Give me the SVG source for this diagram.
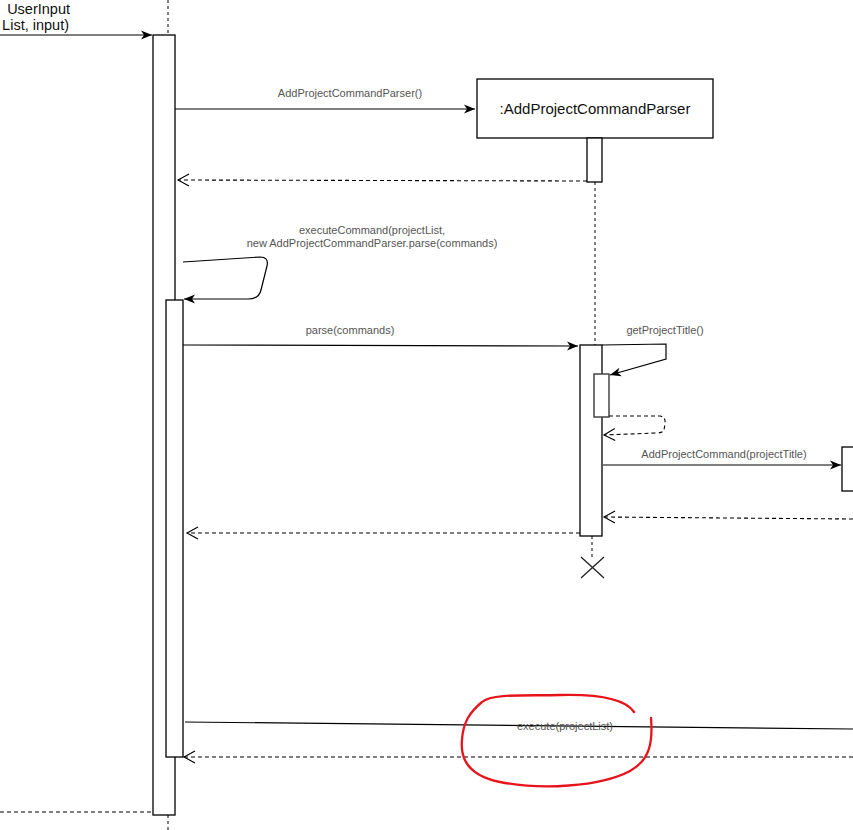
<svg xmlns="http://www.w3.org/2000/svg" width="853" height="830" viewBox="0 0 853 830">
<style>
.box{fill:#fff;stroke:#000;stroke-width:1.3}
.life{stroke:#000;stroke-width:1;stroke-dasharray:3 3;fill:none}
.msg{stroke:#000;stroke-width:1.2;fill:none}
.ret{stroke:#000;stroke-width:1.1;stroke-dasharray:4 3;fill:none}
.lbl{font-family:"Liberation Sans",Arial,sans-serif;font-size:11px;fill:#555;text-anchor:middle}
.obj{font-family:"Liberation Sans",Arial,sans-serif;font-size:15px;fill:#111;text-anchor:middle}
.big{font-family:"Liberation Sans",Arial,sans-serif;font-size:14.5px;fill:#111;text-anchor:end}
</style>
<defs>
<marker id="fill" markerUnits="userSpaceOnUse" markerWidth="12" markerHeight="10" refX="11" refY="5" orient="auto">
<path d="M0,0.5 L11,5 L0,9.5 L3,5 Z" fill="#000"/>
</marker>
<marker id="open" markerUnits="userSpaceOnUse" markerWidth="14" markerHeight="14" refX="12" refY="7" orient="auto">
<path d="M1,1 L12,7 L1,13" fill="none" stroke="#000" stroke-width="1.1"/>
</marker>
</defs>
<rect width="853" height="830" fill="#fff"/>

<g id="main-lifeline">
<line class="life" x1="168" y1="0" x2="168" y2="35"/>
<line class="life" x1="168" y1="815" x2="168" y2="830"/>
<rect class="box" x="153" y="35" width="22" height="780"/>
<rect class="box" x="166" y="300" width="17" height="457"/>
</g>

<g id="parser">
<rect class="box" x="477" y="79" width="236" height="59"/>
<text class="obj" x="595" y="114">:AddProjectCommandParser</text>
<line class="life" x1="595" y1="182" x2="595" y2="345"/>
<line class="life" x1="592" y1="536" x2="592" y2="560"/>
<rect class="box" x="587" y="138" width="15" height="44"/>
<rect class="box" x="580" y="345" width="22" height="191"/>
<rect x="594" y="374" width="15" height="43" fill="#fff" stroke="#444" stroke-width="1.5"/>
<path d="M581,557 L604,578 M581,578 L604,557" stroke="#222" stroke-width="1.3" fill="none"/>
</g>

<g id="command">
<rect class="box" x="842" y="447" width="20" height="44"/>
</g>

<g id="connectors">
<line class="msg" x1="0" y1="35" x2="152" y2="35" marker-end="url(#fill)"/>
<text class="big"><tspan x="70" y="14">UserInput</tspan><tspan x="69" y="30">List, input)</tspan></text>

<line class="msg" x1="175" y1="109" x2="475" y2="109" marker-end="url(#fill)"/>
<text class="lbl" x="350" y="97">AddProjectCommandParser()</text>

<line class="ret" x1="587" y1="181" x2="178" y2="180" marker-end="url(#open)"/>

<text class="lbl"><tspan x="372" y="234">executeCommand(projectList,</tspan><tspan x="372" y="247">new AddProjectCommandParser.parse(commands)</tspan></text>
<path class="msg" d="M183,262 L260,257 Q269,257 267,266 L261,290 Q259,299 248,299 L184,299" marker-end="url(#fill)"/>

<line class="msg" x1="183" y1="345" x2="578" y2="346" marker-end="url(#fill)"/>
<text class="lbl" x="350" y="334">parse(commands)</text>

<path class="msg" d="M602,345 L666,344 L666,359 L610,375" marker-end="url(#fill)"/>
<text class="lbl" x="665" y="334">getProjectTitle()</text>

<path class="ret" d="M609,416 L660,416 Q666,417 665,424 L664,430 Q663,433 656,433 L604,435" marker-end="url(#open)"/>

<line class="msg" x1="603" y1="465" x2="841" y2="465" marker-end="url(#fill)"/>
<text class="lbl" x="724" y="458">AddProjectCommand(projectTitle)</text>

<line class="ret" x1="853" y1="519" x2="604" y2="517" marker-end="url(#open)"/>
<line class="ret" x1="580" y1="533" x2="187" y2="533" marker-end="url(#open)"/>

<line class="msg" x1="185" y1="722" x2="853" y2="729"/>
<text class="lbl" x="565" y="730">execute(projectList)</text>

<line class="ret" x1="853" y1="757" x2="184" y2="757" marker-end="url(#open)"/>
<line class="ret" x1="0" y1="812" x2="153" y2="812"/>
</g>

<path d="M651,718 C653,742 650,760 630,771 C600,787 540,790 500,782 C470,776 460,760 462,740 C463,722 470,712 482,702 C492,693 530,696 560,695 C600,694 626,700 634,712" fill="none" stroke="#e8141c" stroke-width="2.3" stroke-linecap="round"/>
</svg>
